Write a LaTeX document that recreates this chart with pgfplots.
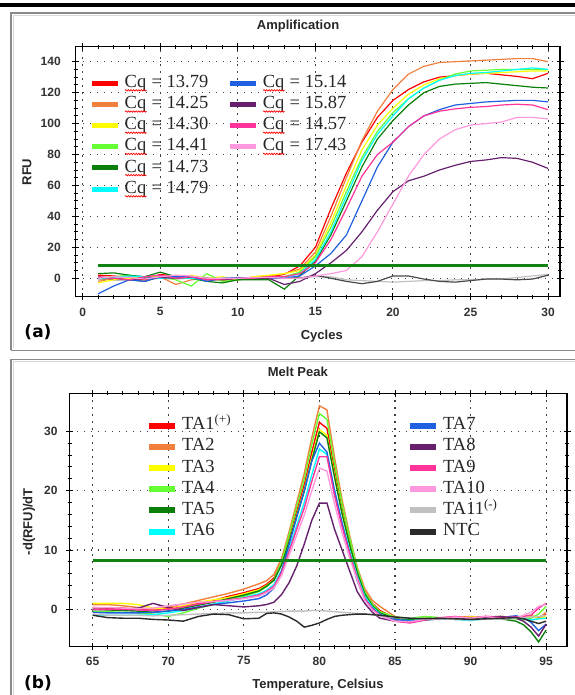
\documentclass[border=0pt]{standalone}
\usepackage{fontspec}
\setmainfont{Liberation Serif}
\setsansfont{Liberation Sans}
\newfontfamily\dejavu{DejaVu Sans}
\usepackage{pgfplots}
\usepackage{pgfplotstable}
\usetikzlibrary{decorations.pathmorphing}
\pgfplotsset{compat=1.18}

% red spell-check squiggle under "Cq"
\newlength\cqw
\newcommand\redwave[1]{\settowidth{\cqw}{#1}\rlap{#1}\raisebox{-4pt}{\tikz\draw[red,line width=0.7pt,decorate,decoration={snake,amplitude=0.7pt,segment length=2.6pt}] (0pt,0pt) -- (\cqw,0pt);}}

\definecolor{cRed}{HTML}{FF0000}
\definecolor{cOrange}{HTML}{F0803C}
\definecolor{cYellow}{HTML}{FFFF00}
\definecolor{cLgreen}{HTML}{66FF33}
\definecolor{cDgreen}{HTML}{0A800A}
\definecolor{cCyan}{HTML}{00FFFF}
\definecolor{cBlue}{HTML}{2060E0}
\definecolor{cPurple}{HTML}{66206E}
\definecolor{cMagenta}{HTML}{FF3399}
\definecolor{cLpink}{HTML}{FF99DD}
\definecolor{cGrey}{HTML}{C0C0C0}
\definecolor{cBlack}{HTML}{2A2A2A}
\definecolor{thr}{HTML}{128212}
\definecolor{frameg}{HTML}{8A8A8A}

% amplification, cycles 1-30
\pgfplotstableread{
c  red   orange yellow lgreen dgreen cyan  blue  purple magenta lpink grey black
1  2     -2     -3     0      3      0     -10   1      1       0     -1   0
2  1.5   0      -1     1      3.5    0.5   -5    0      0       1     -0.5 -1
3  0.5   1      0      2      2      1.5   -1    -1     -1      0.5   0    -1
4  -1    0.5    1      0      1      1     -2    0      1       -0.5  -1   -2
5  2.5   1      1.5    1      4      0     1     0.5    2       1     0    1
6  1.5   -4     0      -1     1      0.5   1     0      0       2     -0.5 0
7  0     -1     2      -5     0      0     1     1      1       1.5   0    1
8  -1    0      0      3      -2     -1    -2    0      -1      0     0.5  -1
9  -0.5  -1.5   1      -2     -3     0     0     -1     -0.5    0     -1   -1
10 0     -1     -1     -1     -1     0     0.5   0      0       0     -0.5 -1
11 0.5   1      1      0      -1     0     0     0      0       0.5   0    0
12 1     1.5    2      -0.5   -1     0     0     0      1       0.5   -0.5 0
13 2.5   3      3      1      -7     0.5   0     -4     1       0     0    1
14 8     6      5      4      2      3     1.5   -2     3       0     0.5  0
15 20    17     15     14     11     12    8     3      10      1.5   1    2
16 45    40     36     33     28     30    16    10     25      3     1    0
17 68    65     60     56     50     53    28    18     45      5     -1   -2
18 88    89     83     78     72     76    50    30     66      14    -1.5 -3.5
19 104   108    99     95     90     93    72    44     80      30    -2   -2
20 115   122    110    107    102    105   88    56     88      48    -2.5 1.5
21 122   132    119    116    112    116   98    63     98      66    -2   1.5
22 127   137    125    123    120    123   105   66     105     80    -1.5 -0.5
23 130   139.5  129    128    124    128   109   70     108     90    -1.5 -2
24 131   140    131    132    125.5  131   112   73     109.5   96    -1   -2.5
25 132   140.5  132    134    126    132.5 113   75.5   110.5   99    -1   -1.5
26 132.5 141    132.5  134.5  126.5  133   114   76.5   111     100   -0.5 -0.5
27 131.5 141.5  133    135    125.5  134   114.5 78     112     101   -0.5 -0.5
28 130.5 142    133.5  135    124.5  135   115   77.5   112.5   104   0.5  -1
29 129   142    134    135    123.5  136   115   75     112     104   1.5  -0.5
30 132.5 140    134    135    123    135   114   71     109     103   2.5  2
}\ampdata

% melt peak, -d(RFU)/dT against temperature
\pgfplotstableread{
t    ta1  ta2  ta3  ta4  ta5  ta6  ta7  ta8  ta9  ta10 ta11 ntc
65   0.3  0.8  1.0  -0.3 0    -1.0 -0.5 0    0    0.3  -0.8 -1.0
66   0.2  0.8  1.0  -0.4 -0.1 -1.0 -0.6 0    0    0.3  -1.0 -1.4
67   0.2  0.6  1.0  -0.5 -0.2 -1.0 -0.6 0    0    0.2  -1.0 -1.5
68   0    0.3  0.8  -0.6 -0.3 -1.0 -0.6 0.2  -0.1 0.1  -1.0 -1.5
69   -0.2 0    0.2  -0.8 -0.5 -0.9 -0.5 1.0  -0.2 0.2  -1.1 -1.7
70   0.2  0.4  0.0  -1.2 -0.3 -0.6 -0.3 0.3  0    0.6  -1.0 -1.8
71   0.5  0.9  0.6  -0.6 0.2  -0.2 0.0  -0.2 0.4  0.9  -0.9 -2.0
72   1.0  1.5  1.2  0.2  0.7  0.3  0.4  0.3  0.9  1.2  -0.8 -1.2
73   1.5  2.1  1.6  0.8  1.2  0.9  0.8  0.8  1.3  1.3  -0.7 -0.8
74   2.2  2.7  2.0  1.5  1.8  1.4  1.1  0.6  1.6  1.5  -0.6 -0.9
75   2.8  3.4  2.6  2.2  2.4  2.0  1.4  0.4  1.9  1.8  -0.6 -1.6
76   3.5  4.3  3.3  3.0  3.1  2.6  1.8  0.6  2.4  2.2  -0.5 -1.5
76.5 4.2  4.8  4.0  3.8  3.9  3.2  2.4  0.8  3.0  2.8  -0.5 -0.7
77   5.3  5.9  5.0  5.0  4.9  4.2  3.6  1.2  3.9  3.6  -0.4 -0.6
77.5 8.0  8.6  7.8  8.0  7.5  6.6  6.4  2.5  6.2  5.7  -0.4 -0.8
78   12   13.1 11.5 12.6 11.4 10.3 11   4.5  9.8  9.1  -0.3 -1.3
78.5 16.5 18   15.9 17.3 15.7 14.1 15.5 7.3  13.5 12.5 -0.3 -2.0
79   21   22.9 20.2 22   19.9 18   20   11   17.1 15.9 -0.3 -3.0
79.5 26.5 28.9 25.5 27.8 25.1 22.7 25   15   21.6 20   -0.2 -2.7
80   31.5 34.3 30.3 33   29.9 27   28   17.9 25.7 23.8 -0.2 -2.3
80.5 30.5 33.6 29.3 32   28.9 26.1 26.5 17.9 25.7 23.3 -0.3 -1.7
81   23.5 25.6 22.6 24.6 22.3 20.1 20   13.5 19.2 17.8 -0.4 -1.2
81.5 17   18.5 16.4 17.8 16.1 14.6 14.5 10   13.9 12.9 -0.5 -1.0
82   11.5 12.5 11.1 12.1 10.9 9.9  9.5  6.5  9.4  8.7  -0.6 -0.9
82.5 6.5  7.1  6.3  6.8  6.2  5.6  4.8  3    5.3  4.9  -0.7 -0.8
83   3    3.5  2.8  3.0  2.6  2.2  1.8  1    1.8  1.5  -0.8 -0.8
83.5 1    1.5  0.8  0.9  0.6  0.4  0.2  -0.5 0.1  -0.1 -0.9 -0.9
84   -0.2 0.5  -0.4 -0.4 -0.6 -0.8 -0.9 -1.5 -1.0 -1.1 -1.1 -1.0
85   -1.5 -1.2 -1.6 -1.3 -1.6 -1.8 -1.7 -2.0 -2.0 -2.0 -1.4 -1.3
86   -1.8 -1.7 -1.9 -1.5 -1.7 -1.9 -2.0 -2.2 -2.3 -2.1 -1.5 -1.5
87   -1.6 -1.5 -1.7 -1.2 -1.5 -1.8 -1.7 -1.8 -1.8 -1.7 -1.6 -1.6
88   -1.5 -1.7 -1.5 -1.4 -1.6 -1.6 -1.5 -1.6 -1.4 -1.5 -1.6 -1.5
89   -1.3 -1.4 -1.6 -1.6 -1.4 -1.7 -1.7 -1.5 -1.2 -1.3 -1.7 -1.6
90   -1.4 -1.2 -1.3 -1.5 -1.6 -1.9 -1.5 -1.5 -1.6 -1.5 -1.8 -1.7
91   -1.2 -1.5 -1.4 -1.3 -1.5 -1.6 -1.3 -1.3 -1.2 -1.2 -1.7 -1.6
92   -1.3 -1.2 -1.2 -1.5 -1.6 -1.5 -1.4 -1.2 -1.4 -1.6 -1.6 -1.5
93   -1.2 -1.4 -1.5 -1.6 -2.0 -1.5 -1.1 -1.5 -1.3 -1.5 -1.5 -1.4
93.5 -1.4 -1.2 -1.3 -1.8 -2.6 -1.6 -1.4 -2.0 -1.2 -1.0 -1.4 -1.6
94   -1.3 -1.0 -1.1 -1.5 -3.8 -1.8 -2.2 -3.0 -1.0 -0.5 -1.3 -2.0
94.5 -1.4 -1.5 -1.6 -0.8 -5.5 -1.6 -3.6 -4.5 0.2  0.5  -1.2 -2.4
95   -0.8 -0.5 -1.2 0.5  -3.5 -1.5 -2.5 -2.5 1.0  0.8  -1.0 -2.0
}\meltdata

\pgfplotsset{
  qpcr/.style={
    scale only axis,
    axis line style={line width=1.3pt},
    tick align=center,
    major tick length=7pt, minor tick length=4pt,
    tick style={line width=0.9pt, black},
    grid=major,
    grid style={dash pattern=on 1.2pt off 5.8pt, line width=1.1pt, black!75},
    ticklabel style={font=\sffamily\bfseries\fontsize{12}{12}\selectfont, text=black!80},
    /pgf/number format/assume math mode=true,
    label style={font=\sffamily\bfseries\fontsize{13}{13}\selectfont, text=black!85},
    title style={font=\sffamily\bfseries\fontsize{13}{13}\selectfont, text=black!85},
    legend image code/.code={\draw[##1,line width=5pt] (0pt,0pt) -- (26pt,0pt);},
    legend style={draw=none, fill=none, inner sep=0pt,
      font=\fontsize{18.5}{18.5}\selectfont, text=black!85, row sep=1.7pt,
      nodes={font=\fontsize{18.5}{18.5}\selectfont, inner ysep=1pt, inner xsep=4pt,
        text height=13pt, text depth=4.5pt}},
    transpose legend, legend columns=6, legend cell align=left,
    every axis plot/.append style={line width=1.2pt, mark=none},
  }
}

\begin{document}
\begin{tikzpicture}[x=1pt,y=1pt]
\useasboundingbox (0,0) rectangle (574,695);

% rule above and panel frames
\draw[line width=4pt] (-2,689.7) -- (576,689.7);
\draw[line width=1.6pt, frameg] (11,344.5) -- (11,682) -- (580,682);
\draw[line width=1.6pt, frameg] (11,344.5) -- (580,344.5);
\draw[line width=1pt, black!15] (13.5,347) -- (13.5,679.5) -- (580,679.5);
\draw[line width=1.6pt, frameg] (11,-5) -- (11,335.5) -- (580,335.5);
\draw[line width=1pt, black!15] (13.5,-5) -- (13.5,333) -- (580,333);

% (a) amplification
\begin{axis}[qpcr,
  at={(75.8pt,398.3pt)}, anchor=south west,
  width=484.2pt, height=250pt,
  xmin=-0.445, xmax=30.77, ymin=-11.9, ymax=149.7,
  xtick={0,5,...,30}, ytick={0,20,...,140},
  minor x tick num=4, minor y tick num=3,
  yticklabel style={xshift=-8pt}, xticklabel style={yshift=-4pt},
  title={Amplification}, xlabel={Cycles}, ylabel={RFU},
  title style={at={(axis description cs:0.459,1.059)}, anchor=center},
  xlabel style={at={(axis description cs:0.508,-0.157)}, anchor=center},
  ylabel style={at={(axis description cs:-0.1008,0.4988)}, anchor=center},
  legend style={at={(0.0283,0.894)}, anchor=north west,
    /tikz/column 2/.style={column sep=15.5pt}},
]
\addplot[cGrey, forget plot] table[x=c, y=grey] {\ampdata};
\addplot[cBlack!85, forget plot] table[x=c, y=black] {\ampdata};
\addplot[cRed] table[x=c, y=red] {\ampdata};
\addlegendentry{\redwave{Cq} = 13.79}
\addplot[cOrange] table[x=c, y=orange] {\ampdata};
\addlegendentry{\redwave{Cq} = 14.25}
\addplot[cYellow] table[x=c, y=yellow] {\ampdata};
\addlegendentry{\redwave{Cq} = 14.30}
\addplot[cLgreen] table[x=c, y=lgreen] {\ampdata};
\addlegendentry{\redwave{Cq} = 14.41}
\addplot[cDgreen] table[x=c, y=dgreen] {\ampdata};
\addlegendentry{\redwave{Cq} = 14.73}
\addplot[cCyan] table[x=c, y=cyan] {\ampdata};
\addlegendentry{\redwave{Cq} = 14.79}
\addplot[cBlue] table[x=c, y=blue] {\ampdata};
\addlegendentry{\redwave{Cq} = 15.14}
\addplot[cPurple] table[x=c, y=purple] {\ampdata};
\addlegendentry{\redwave{Cq} = 15.87}
\addplot[cMagenta] table[x=c, y=magenta] {\ampdata};
\addlegendentry{\redwave{Cq} = 14.57}
\addplot[cLpink] table[x=c, y=lpink] {\ampdata};
\addlegendentry{\redwave{Cq} = 17.43}
\addlegendimage{empty legend}\addlegendentry{}
\addlegendimage{empty legend}\addlegendentry{}
\addplot[thr, line width=3pt, forget plot] coordinates {(1,8.4) (30,8.4)};
\end{axis}

% (b) melt peak
\begin{axis}[qpcr,
  at={(69.5pt,48.3pt)}, anchor=south west,
  width=497.5pt, height=253.4pt,
  xmin=63.47, xmax=96.38, ymin=-6.3, ymax=36.4,
  xtick={65,70,...,95}, ytick={0,10,20,30},
  minor x tick num=4, minor y tick num=4,
  yticklabel style={xshift=-5pt}, xticklabel style={yshift=-3pt},
  title={Melt Peak}, xlabel={Temperature, Celsius}, ylabel={-d(RFU)/dT},
  title style={at={(axis description cs:0.459,1.0616)}, anchor=center},
  xlabel style={at={(axis description cs:0.4995,-0.151)}, anchor=center},
  ylabel style={at={(axis description cs:-0.0814,0.4933)}, anchor=center},
  every axis plot/.append style={line width=1.4pt},
  legend style={at={(0.1538,0.912)}, anchor=north west,
    /tikz/column 2/.style={column sep=172pt}},
  legend image code/.code={\draw[#1,line width=6pt] (0pt,0pt) -- (26pt,0pt);},
]
\addplot[cRed] table[x=t, y=ta1] {\meltdata};
\addlegendentry{TA1\textsuperscript{(+)}}
\addplot[cOrange] table[x=t, y=ta2] {\meltdata};
\addlegendentry{TA2}
\addplot[cYellow] table[x=t, y=ta3] {\meltdata};
\addlegendentry{TA3}
\addplot[cLgreen] table[x=t, y=ta4] {\meltdata};
\addlegendentry{TA4}
\addplot[cDgreen] table[x=t, y=ta5] {\meltdata};
\addlegendentry{TA5}
\addplot[cCyan] table[x=t, y=ta6] {\meltdata};
\addlegendentry{TA6}
\addplot[cBlue] table[x=t, y=ta7] {\meltdata};
\addlegendentry{TA7}
\addplot[cPurple] table[x=t, y=ta8] {\meltdata};
\addlegendentry{TA8}
\addplot[cMagenta] table[x=t, y=ta9] {\meltdata};
\addlegendentry{TA9}
\addplot[cLpink] table[x=t, y=ta10] {\meltdata};
\addlegendentry{TA10}
\addplot[cGrey] table[x=t, y=ta11] {\meltdata};
\addlegendentry{TA11\textsuperscript{(-)}}
\addplot[cBlack] table[x=t, y=ntc] {\meltdata};
\addlegendentry{NTC}
\addplot[thr, line width=3pt, forget plot] coordinates {(65,8.26) (95,8.26)};
\end{axis}

\node[font=\dejavu\bfseries\fontsize{17}{17}\selectfont] at (38,363) {(a)};
\node[font=\dejavu\bfseries\fontsize{17}{17}\selectfont] at (38,12) {(b)};
\end{tikzpicture}
\end{document}
